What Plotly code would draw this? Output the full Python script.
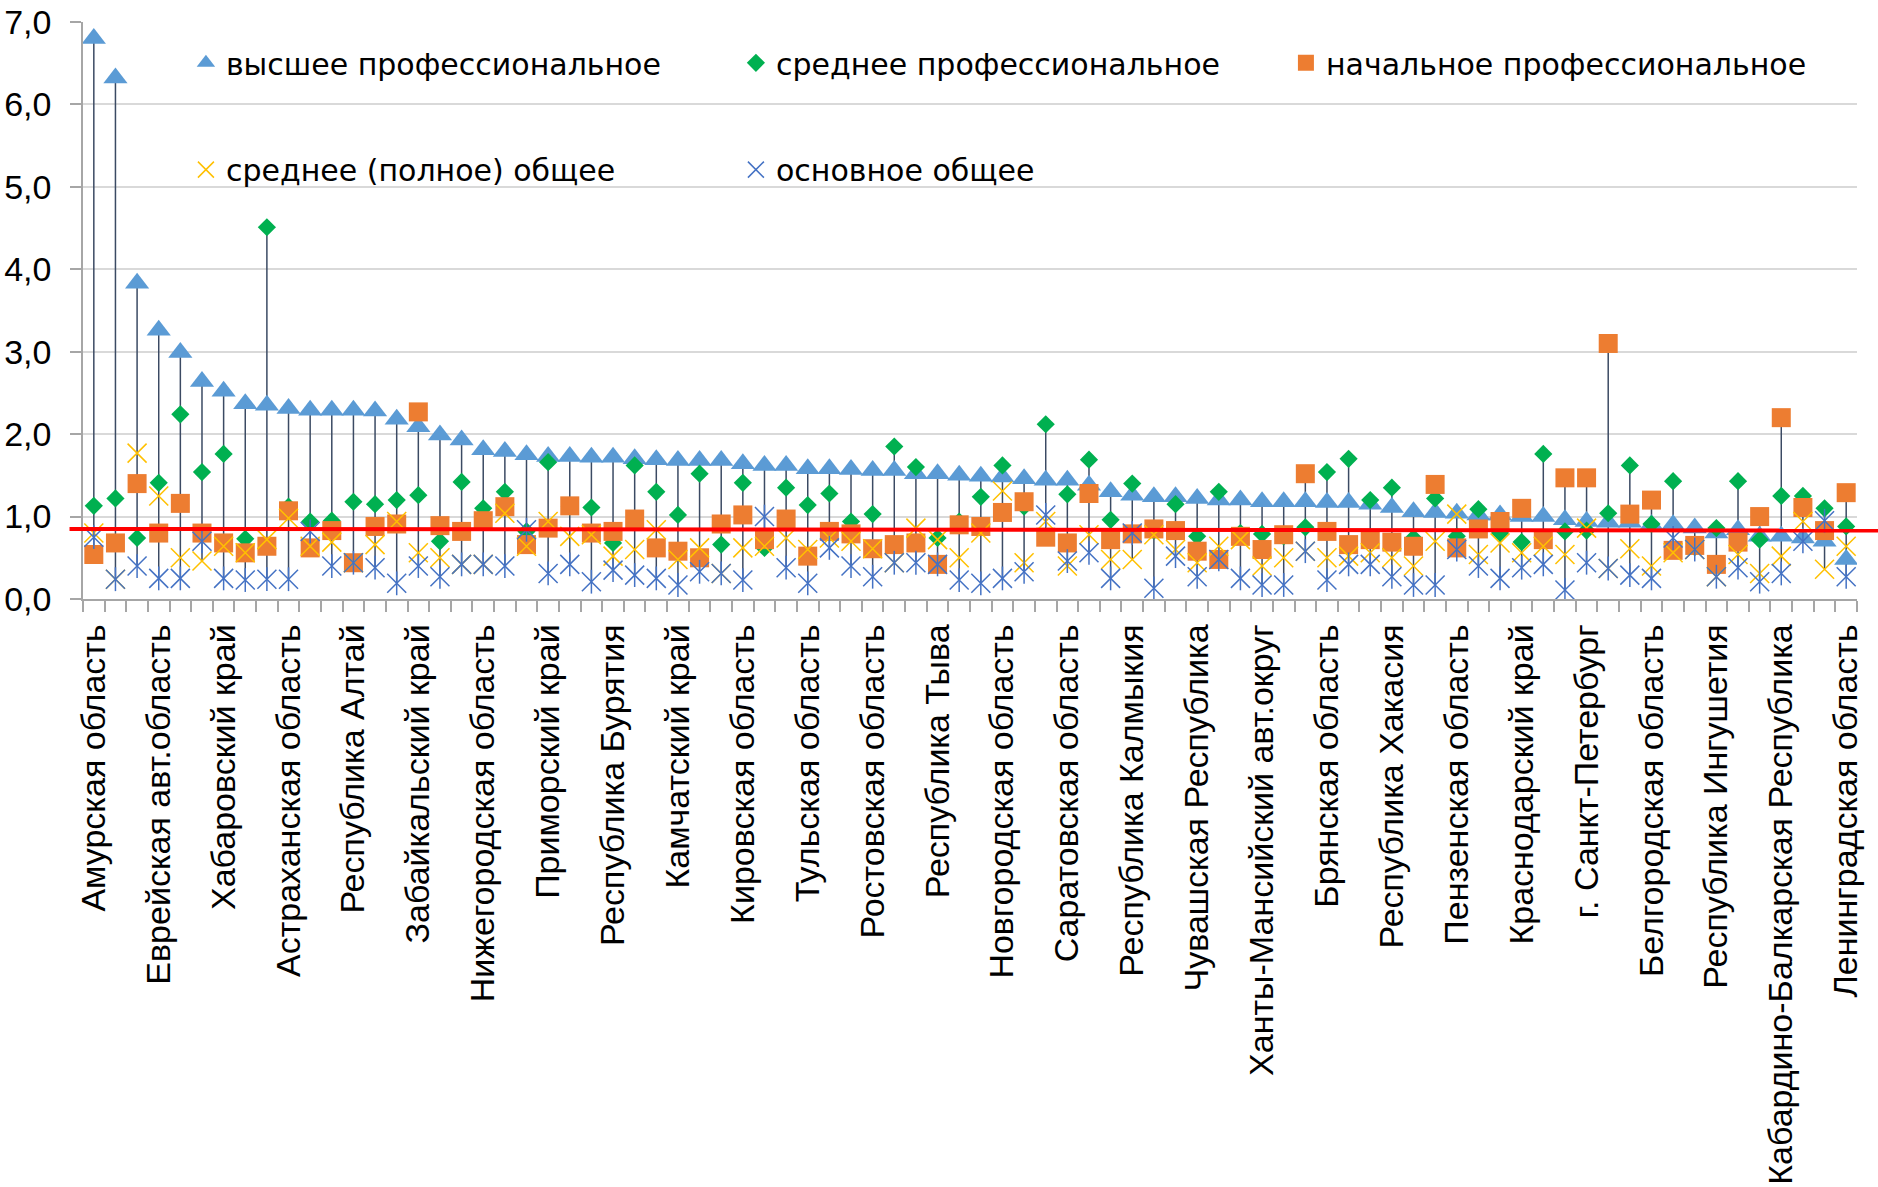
import plotly.graph_objects as go

tick_labels = [
    "Амурская область", "Еврейская авт.область", "Хабаровский край", "Астраханская область",
    "Республика Алтай", "Забайкальский край", "Нижегородская область", "Приморский край",
    "Республика Бурятия", "Камчатский край", "Кировская область", "Тульская область",
    "Ростовская область", "Республика Тыва", "Новгородская область", "Саратовская область",
    "Республика Калмыкия", "Чувашская Республика", "Ханты-Мансийский авт.округ", "Брянская область",
    "Республика Хакасия", "Пензенская область", "Краснодарский край", "г. Санкт-Петербург",
    "Белгородская область", "Республика Ингушетия", "Кабардино-Балкарская Республика",
    "Ленинградская область",
]

higher = [6.80, 6.32, 3.83, 3.26, 2.99, 2.64, 2.52, 2.37, 2.35, 2.31,
          2.29, 2.29, 2.29, 2.28, 2.18, 2.09, 1.99, 1.93, 1.81, 1.79,
          1.75, 1.73, 1.73, 1.72, 1.72, 1.70, 1.69, 1.68, 1.68, 1.68,
          1.64, 1.62, 1.62, 1.58, 1.58, 1.57, 1.56, 1.56, 1.52, 1.52,
          1.50, 1.49, 1.48, 1.46, 1.44, 1.44, 1.38, 1.30, 1.26, 1.24,
          1.24, 1.22, 1.20, 1.20, 1.18, 1.18, 1.18, 1.17, 1.17, 1.15,
          1.11, 1.06, 1.05, 1.04, 1.02, 1.02, 1.00, 1.00, 0.96, 0.94,
          0.93, 0.93, 0.90, 0.90, 0.86, 0.80, 0.84, 0.76, 0.76, 0.74,
          0.70, 0.48]

secondary_prof = [1.13, 1.22, 0.74, 1.41, 2.24, 1.54, 1.76, 0.73, 4.51, 1.12,
                  0.94, 0.95, 1.18, 1.15, 1.20, 1.26, 0.70, 1.42, 1.10, 1.30,
                  0.82, 1.66, 1.12, 1.11, 0.68, 1.62, 1.30, 1.02, 1.52, 0.66,
                  1.41, 0.62, 1.35, 1.14, 1.28, 0.94, 1.03, 1.85, 1.60, 0.74,
                  0.94, 1.24, 1.62, 1.12, 2.12, 1.27, 1.69, 0.96, 1.40, 0.83,
                  1.15, 0.76, 1.30, 0.80, 0.79, 0.76, 0.87, 1.54, 1.70, 1.20,
                  1.35, 0.74, 1.22, 0.76, 1.09, 0.80, 0.69, 1.76, 0.82, 0.83,
                  1.04, 1.62, 0.91, 1.43, 0.63, 0.86, 1.43, 0.72, 1.25, 1.25,
                  1.10, 0.88]

primary_prof = [0.54, 0.68, 1.40, 0.80, 1.16, 0.80, 0.68, 0.56, 0.64, 1.07,
                0.62, 0.83, 0.44, 0.88, 0.91, 2.27, 0.89, 0.82, 0.95, 1.12,
                0.66, 0.86, 1.13, 0.80, 0.82, 0.97, 0.62, 0.58, 0.50, 0.91,
                1.02, 0.72, 0.97, 0.52, 0.82, 0.79, 0.61, 0.66, 0.68, 0.42,
                0.90, 0.88, 1.05, 1.18, 0.75, 0.68, 1.28, 0.72, 0.79, 0.85,
                0.83, 0.58, 0.48, 0.76, 0.60, 0.78, 1.52, 0.82, 0.66, 0.72,
                0.69, 0.64, 1.39, 0.62, 0.85, 0.94, 1.10, 0.72, 1.47, 1.47,
                3.10, 1.03, 1.20, 0.59, 0.65, 0.42, 0.69, 1.00, 2.20, 1.11,
                0.83, 1.29]

secondary_general = [0.80, 0.24, 1.77, 1.25, 0.50, 0.46, 0.64, 0.56, 0.72, 0.98,
                     0.64, 0.69, 0.44, 0.66, 0.94, 0.56, 0.50, 0.42, 0.42, 1.04,
                     0.64, 0.94, 0.76, 0.78, 0.52, 0.60, 0.84, 0.48, 0.62, 0.31,
                     0.62, 0.64, 0.74, 0.60, 0.74, 0.70, 0.61, 0.44, 0.86, 0.72,
                     0.50, 0.80, 1.31, 0.44, 0.94, 0.40, 0.78, 0.48, 0.48, 0.78,
                     0.60, 0.44, 0.64, 0.72, 0.40, 0.50, 0.58, 0.50, 0.52, 0.56,
                     0.50, 0.40, 0.70, 1.03, 0.54, 0.68, 0.56, 0.64, 0.54, 0.86,
                     0.37, 0.61, 0.40, 0.56, 0.60, 0.27, 0.54, 0.31, 0.52, 0.94,
                     0.36, 0.64]

basic_general = [0.75, 0.24, 0.40, 0.25, 0.25, 0.70, 0.25, 0.23, 0.24, 0.24,
                 0.82, 0.40, 0.44, 0.38, 0.19, 0.40, 0.27, 0.42, 0.42, 0.40,
                 0.84, 0.31, 0.42, 0.21, 0.35, 0.29, 0.25, 0.17, 0.33, 0.31,
                 0.23, 1.00, 0.38, 0.19, 0.62, 0.40, 0.27, 0.44, 0.44, 0.42,
                 0.23, 0.19, 0.25, 0.33, 1.02, 0.46, 0.56, 0.25, 0.80, 0.13,
                 0.52, 0.27, 0.48, 0.25, 0.17, 0.17, 0.58, 0.23, 0.42, 0.42,
                 0.27, 0.17, 0.17, 0.60, 0.40, 0.25, 0.38, 0.42, 0.11, 0.44,
                 0.37, 0.29, 0.25, 0.74, 0.60, 0.27, 0.38, 0.21, 0.31, 0.70,
                 0.95, 0.27]

reference_line = [0.85, 0.83]

series_names = ["высшее профессиональное", "среднее профессиональное",
                "начальное профессиональное", "среднее (полное) общее", "основное общее"]

n = len(higher)
xs = list(range(n))
all_series = [higher, secondary_prof, primary_prof, secondary_general, basic_general]

# high-low lines
hl_x, hl_y = [], []
for i in xs:
    vals = [s[i] for s in all_series]
    hl_x += [i, i, None]
    hl_y += [max(vals), min(vals), None]

fig = go.Figure()
fig.add_trace(go.Scatter(x=hl_x, y=hl_y, mode="lines", line=dict(color="#3B4A63", width=1.5),
                         showlegend=False, hoverinfo="skip"))

fig.add_trace(go.Scatter(x=xs, y=higher, mode="markers", name=series_names[0], legend="legend",
                         marker=dict(symbol="triangle-up", size=21, color="#5B9BD5")))
fig.add_trace(go.Scatter(x=xs, y=secondary_prof, mode="markers", name=series_names[1], legend="legend",
                         marker=dict(symbol="diamond", size=14, color="#00B050")))
fig.add_trace(go.Scatter(x=xs, y=primary_prof, mode="markers", name=series_names[2], legend="legend",
                         marker=dict(symbol="square", size=19, color="#ED7D31")))
fig.add_trace(go.Scatter(x=xs, y=secondary_general, mode="markers", name=series_names[3], legend="legend2",
                         marker=dict(symbol="x-thin", size=19, color="#FFC000",
                                     line=dict(color="#FFC000", width=1.5))))
# asterisk = X + vertical bar
fig.add_trace(go.Scatter(x=xs, y=basic_general, mode="markers", name=series_names[4], legend="legend2",
                         legendgroup="basic",
                         marker=dict(symbol="x-thin", size=19, color="#4472C4",
                                     line=dict(color="#4472C4", width=1.5))))
fig.add_trace(go.Scatter(x=xs, y=basic_general, mode="markers", name=series_names[4], legend="legend2",
                         legendgroup="basic", showlegend=False,
                         marker=dict(symbol="line-ns", size=17, color="#4472C4",
                                     line=dict(color="#4472C4", width=1.5))))

fig.add_shape(type="line", xref="paper", yref="y", x0=-0.0076, x1=1.012,
              y0=reference_line[0], y1=reference_line[1],
              line=dict(color="#FF0000", width=4), layer="above")

tickfont = dict(family="Liberation Sans, Arial, sans-serif", size=34, color="#000000")
legfont = dict(family="DejaVu Sans, Verdana, sans-serif", size=30, color="#000000")

fig.update_layout(
    width=1878, height=1187,
    margin=dict(l=82.5, r=21, t=21.7, b=587.7, autoexpand=False),
    paper_bgcolor="white", plot_bgcolor="white",
    separators=", ",
    showlegend=True,
    legend=dict(orientation="h", xref="container", yref="container", x=0.099, y=0.969,
                xanchor="left", yanchor="top", entrywidth=505, entrywidthmode="pixels",
                font=legfont, bgcolor="rgba(0,0,0,0)", itemclick=False),
    legend2=dict(orientation="h", xref="container", yref="container", x=0.099, y=0.879,
                 xanchor="left", yanchor="top", entrywidth=505, entrywidthmode="pixels",
                 font=legfont, bgcolor="rgba(0,0,0,0)", itemclick=False),
    xaxis=dict(range=[-0.5, n - 0.5], tickmode="array",
               tickvals=xs[::3], ticktext=tick_labels, tickangle=-90,
               tickfont=tickfont, ticks="", ticklabelstandoff=10,
               showgrid=False, zeroline=False,
               showline=True, linecolor="#A6A6A6", linewidth=1.5,
               minor=dict(tickmode="array", tickvals=[i - 0.5 for i in range(n + 1)],
                          ticks="outside", ticklen=11, tickcolor="#A6A6A6", tickwidth=1.5,
                          showgrid=False)),
    yaxis=dict(range=[0, 7], tickmode="linear", tick0=0, dtick=1, tickformat=".1f",
               tickfont=tickfont, ticks="outside", ticklen=11, tickcolor="#A6A6A6", tickwidth=1.5,
               ticklabelstandoff=12,
               showgrid=True, gridcolor="#D9D9D9", gridwidth=1.5, zeroline=False,
               showline=True, linecolor="#A6A6A6", linewidth=1.5),
)

fig.write_html("out.html", config={"displayModeBar": False},
               post_script="document.body.style.margin='0';")
